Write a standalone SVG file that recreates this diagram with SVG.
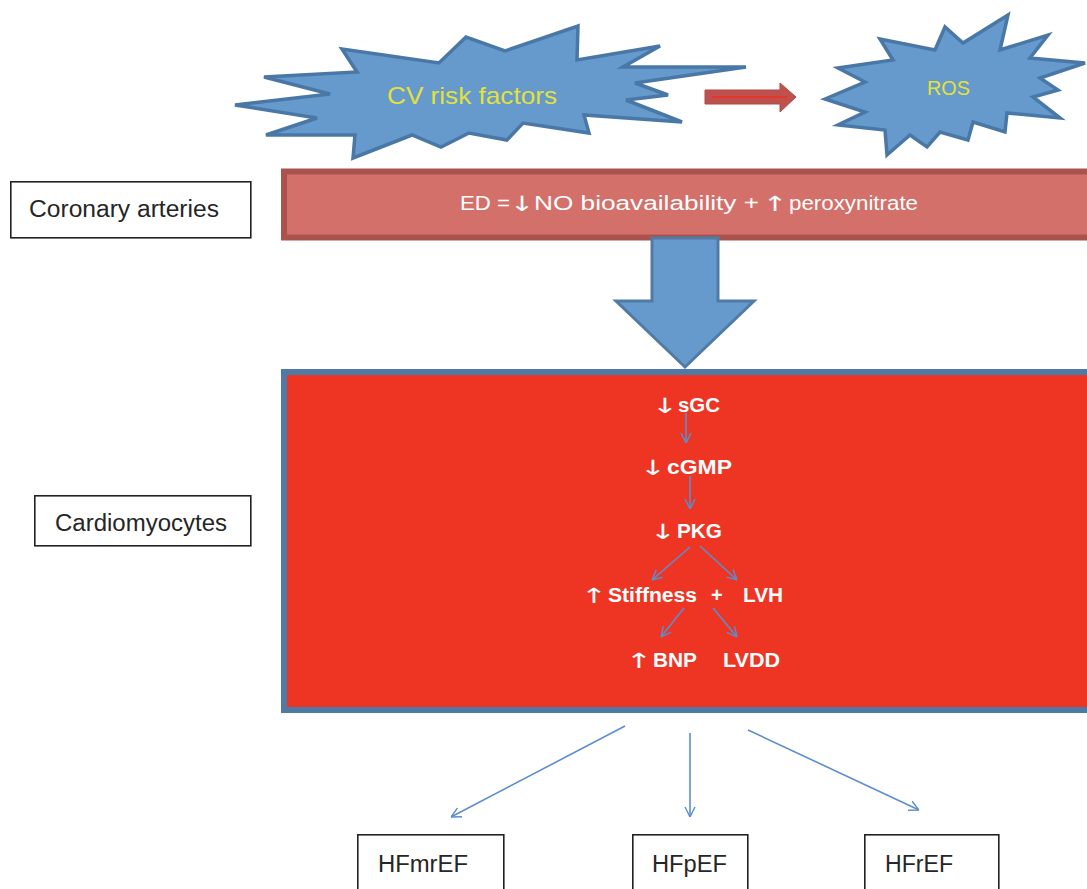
<svg xmlns="http://www.w3.org/2000/svg" width="1087" height="889" viewBox="0 0 1087 889">
<style>
  .burst { fill: #6699cc; stroke: #4a78a6; stroke-width: 3.5; stroke-linejoin: miter; }
  .label { fill: #ffffff; stroke: #222222; stroke-width: 1.6; }
  .lt { font-family: "Liberation Sans", Arial, sans-serif; fill: #262626; font-size: 23px; }
  .wt { font-family: "Liberation Sans", "DejaVu Sans", sans-serif; fill: #ffffff; font-size: 20px; font-weight: bold; }
  .ar { font-family: "DejaVu Sans", sans-serif; font-weight: normal; font-size: 21px; fill: #ffffff; text-anchor: middle; }
  .yt { font-family: "Liberation Sans", sans-serif; fill: #e2e23a; }
  .conn { stroke: #5b8ed0; stroke-width: 1.6; fill: none; marker-end: url(#vhead); }
</style>
<defs>
  <marker id="vhead" viewBox="0 0 10 10" refX="10" refY="5" markerWidth="10" markerHeight="12" markerUnits="userSpaceOnUse" orient="auto">
    <path d="M0,0 L10,5 L0,10" fill="none" stroke="#5b8ed0" stroke-width="1.4"/>
  </marker>
</defs>
<rect width="1087" height="889" fill="#ffffff"/>

<g id="cv-risk-factors">
  <polygon class="burst" points="235,105 330,94 264,77 357,72 342,49 439,63 466,37 505,51 578,26 577,60 660,46 623,67 746,67 635,83 668,95 626,100 682,122 584,115 589,133 523,123 507,140 469,133 441,147 412,135 353,158 355,135 266,135 317,118"/>
  <text class="yt" x="387" y="104" font-size="24" textLength="170" lengthAdjust="spacingAndGlyphs">CV risk factors</text>
</g>

<g id="ros">
  <polygon class="burst" points="825,99 865,82 838,68 893,60 880,39 935,50 945,27 963,43 1008,15 1000,50 1048,35 1030,58 1085,63 1040,78 1058,90 1033,97 1060,118 1007,113 1005,132 973,122 968,140 940,132 927,147 910,135 887,155 885,130 838,125 865,112"/>
  <text class="yt" x="927" y="95" font-size="20" textLength="43" lengthAdjust="spacingAndGlyphs">ROS</text>
</g>

<g id="coronary-label">
  <rect class="label" x="10.8" y="181.8" width="240" height="56"/>
  <text class="lt" x="29" y="217" textLength="190" lengthAdjust="spacingAndGlyphs">Coronary arteries</text>
</g>

<g id="ed-bar">
  <rect x="284" y="171.5" width="830" height="66" fill="#d4706a" stroke="#aa524e" stroke-width="6"/>
  <text y="210" font-family="Liberation Sans, DejaVu Sans, sans-serif" font-size="20" fill="#ffffff"><tspan x="460" textLength="50" lengthAdjust="spacingAndGlyphs">ED =</tspan><tspan x="534" textLength="225" lengthAdjust="spacingAndGlyphs">NO bioavailability +</tspan><tspan x="789" textLength="129" lengthAdjust="spacingAndGlyphs">peroxynitrate</tspan></text>
  <text class="ar" transform="translate(522,211) scale(1.4,1)" font-size="20">↓</text>
  <text class="ar" transform="translate(775,211) scale(1.4,1)" font-size="20">↑</text>
</g>

<g id="cardio-label">
  <rect class="label" x="34.8" y="495.8" width="216" height="50"/>
  <text class="lt" x="55" y="531" textLength="172" lengthAdjust="spacingAndGlyphs">Cardiomyocytes</text>
</g>

<g id="cardiomyocytes-box">
  <rect x="284" y="372" width="830" height="338" fill="#ee3524" stroke="#4e7aa5" stroke-width="6"/>
  <text class="ar" transform="translate(665,413) scale(1.5,1)">↓</text>
  <text class="wt" x="678" y="412" textLength="42" lengthAdjust="spacingAndGlyphs">sGC</text>
  <text class="ar" transform="translate(653,475) scale(1.5,1)">↓</text>
  <text class="wt" x="667" y="474" textLength="65" lengthAdjust="spacingAndGlyphs">cGMP</text>
  <text class="ar" transform="translate(663,539) scale(1.5,1)">↓</text>
  <text class="wt" x="677" y="538" textLength="45" lengthAdjust="spacingAndGlyphs">PKG</text>
  <text class="ar" transform="translate(594,603) scale(1.5,1)">↑</text>
  <text class="wt" y="602"><tspan x="608" textLength="89" lengthAdjust="spacingAndGlyphs">Stiffness</tspan><tspan x="711">+</tspan><tspan x="743" textLength="40" lengthAdjust="spacingAndGlyphs">LVH</tspan></text>
  <text class="ar" transform="translate(639,668) scale(1.5,1)">↑</text>
  <text class="wt" y="667"><tspan x="653" textLength="44" lengthAdjust="spacingAndGlyphs">BNP</tspan><tspan x="723" textLength="57" lengthAdjust="spacingAndGlyphs">LVDD</tspan></text>
</g>

<g id="red-arrow">
  <polygon points="705,90 780,90 780,83 796,97 780,112 780,104 705,104" fill="#c0504d" stroke="#b04844" stroke-width="1"/>
  <line x1="712" y1="97" x2="787" y2="97" stroke="#e2382c" stroke-width="2"/>
</g>

<g id="big-arrow">
  <polygon points="652,238 718,238 718,301 754,301 685,367 616,301 652,301" fill="#6699cc" stroke="#4f7ba6" stroke-width="3"/>
</g>

<g id="hfmref">
  <rect class="label" x="357.8" y="834.8" width="146" height="80"/>
  <text class="lt" x="378" y="872" font-size="24" textLength="90" lengthAdjust="spacingAndGlyphs">HFmrEF</text>
</g>
<g id="hfpef">
  <rect class="label" x="632.8" y="834.8" width="115" height="80"/>
  <text class="lt" x="652" y="872" font-size="24" textLength="75" lengthAdjust="spacingAndGlyphs">HFpEF</text>
</g>
<g id="hfref">
  <rect class="label" x="864.8" y="834.8" width="134" height="80"/>
  <text class="lt" x="885" y="872" font-size="24" textLength="68" lengthAdjust="spacingAndGlyphs">HFrEF</text>
</g>

<g id="connectors">
  <line class="conn" x1="686" y1="413" x2="686" y2="443"/>
  <line class="conn" x1="690" y1="476" x2="690" y2="509"/>
  <line class="conn" x1="690" y1="547" x2="652" y2="580"/>
  <line class="conn" x1="700" y1="546" x2="737" y2="580"/>
  <line class="conn" x1="684" y1="608" x2="661" y2="637"/>
  <line class="conn" x1="713" y1="608" x2="737" y2="637"/>
  <line class="conn" x1="625" y1="726" x2="451" y2="817"/>
  <line class="conn" x1="690" y1="733" x2="690" y2="817"/>
  <line class="conn" x1="748" y1="730" x2="919" y2="810"/>
</g>
</svg>
